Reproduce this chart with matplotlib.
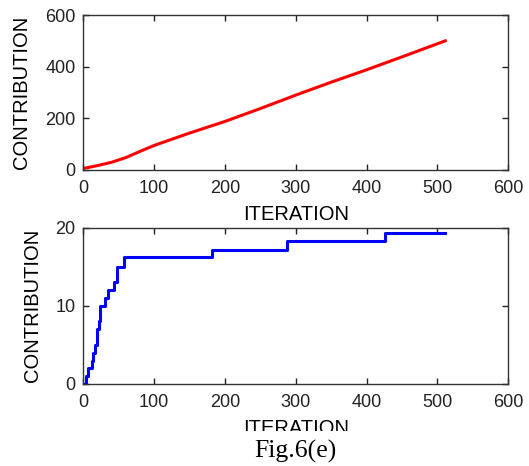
import matplotlib
matplotlib.use("Agg")
import matplotlib.pyplot as plt
from matplotlib.patches import Rectangle

# top panel: red curve
top_x = [0, 20, 40, 60, 80, 100, 150, 200, 250, 300, 350, 400, 450, 511]
top_y = [6, 17, 30, 48, 72, 95, 143, 188, 238, 290, 340, 388, 438, 500]

# bottom panel: blue staircase (steps-post)
bot_x = [0, 4, 7, 12, 14, 17, 20, 22, 24, 31, 35, 44, 47, 58, 182, 287, 426, 511]
bot_y = [0, 1, 2, 3, 4, 5, 7, 8, 10, 11, 12, 13, 15, 16.2, 17.2, 18.3, 19.3, 19.3]

x_ticks = [0, 100, 200, 300, 400, 500, 600]
top_yticks = [0, 200, 400, 600]
bot_yticks = [0, 10, 20]

plt.rcParams['font.family'] = ['Liberation Sans', 'DejaVu Sans']
W, H = 529, 466
fig = plt.figure(figsize=(W / 100, H / 100), dpi=100)


def style(ax):
    for s in ax.spines.values():
        s.set_linewidth(1.0)
        s.set_color('#333333')
    ax.tick_params(direction='in', length=4, width=1, top=True, right=True,
                   labelsize=13, colors='#222222')
    ax.tick_params(axis='x', pad=7)
    ax.tick_params(axis='y', pad=5.5)


ax1 = fig.add_axes([83.3 / W, 1 - 170 / H, 425 / W, 155 / H])
ax1.plot(top_x, top_y, color='#ff0000', lw=2.2)
ax1.set_xlim(0, 600)
ax1.set_ylim(0, 600)
ax1.set_xticks(x_ticks)
ax1.set_yticks(top_yticks)
ax1.set_xlabel('ITERATION', fontsize=14.5, labelpad=6)
ax1.set_ylabel('CONTRIBUTION', fontsize=14.5, labelpad=10)
style(ax1)

ax2 = fig.add_axes([83.3 / W, 1 - 384 / H, 425 / W, 156.3 / H])
ax2.plot(bot_x, bot_y, color='#0000ff', lw=2.2, drawstyle='steps-post')
ax2.set_xlim(0, 600)
ax2.set_ylim(0, 20)
ax2.set_xticks(x_ticks)
ax2.set_yticks(bot_yticks)
ax2.set_xlabel('ITERATION', fontsize=14.5, labelpad=6)
ax2.set_ylabel('CONTRIBUTION', fontsize=14.5, labelpad=10)
style(ax2)

# the bottom axis label is cut off in the original
fig.patches.append(Rectangle((0, 0), 1, 35 / H, transform=fig.transFigure,
                             facecolor='white', edgecolor='none', zorder=5))
fig.text(295 / W, 1 - 451 / H, 'Fig.6(e)', ha='center', va='center',
         fontsize=18.5, family=['Liberation Serif', 'DejaVu Serif'], zorder=6)

fig.savefig('out.png', dpi=100, facecolor='white')
